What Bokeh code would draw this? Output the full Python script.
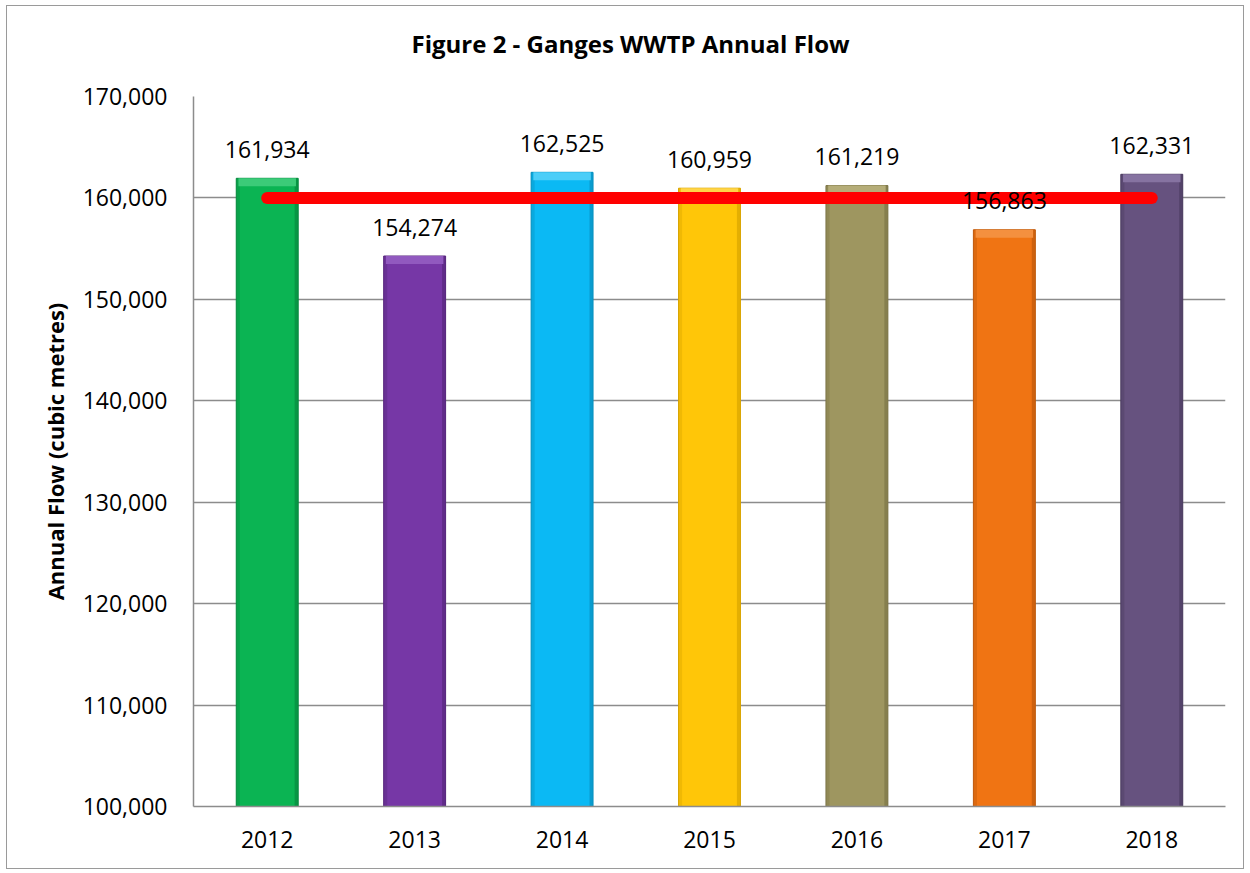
from bokeh.plotting import figure
from bokeh.models import Range1d, NumeralTickFormatter, ColumnDataSource, FixedTicker, Title
from bokeh.transform import dodge
from bokeh.core.properties import value
from bokeh.embed import file_html
from bokeh.resources import INLINE

years = ["2012", "2013", "2014", "2015", "2016", "2017", "2018"]
flows = [161934, 154274, 162525, 160959, 161219, 156863, 162331]
colors = ["#0BB453", "#7637A6", "#0BB9F4", "#FFC608", "#9E9660", "#F07413", "#66527F"]
side_colors = ["#07893F", "#57277D", "#0890BF", "#D9A500", "#7C7547", "#BF5A0D", "#4B3C5F"]
cap_colors = ["#3CCB78", "#9159BF", "#4CCEF8", "#FFD447", "#B5AD78", "#F4903F", "#8673A1"]
target = 160000
title_text = "Figure 2 - Ganges WWTP Annual Flow"
y_label = "Annual Flow (cubic metres)"

FONT = "Open Sans"
YMIN, YMAX = 100000, 170000
FRAME_H = 710
px = (YMAX - YMIN) / FRAME_H  # data units per pixel

src = ColumnDataSource(dict(
    year=years, flow=flows, color=colors, side=side_colors, cap=cap_colors,
    base=[YMIN] * len(years),
    label=[f"{v:,}" for v in flows],
    cap_bottom=[v - 8 * px for v in flows],
))

p = figure(x_range=years, y_range=Range1d(YMIN, YMAX),
           width=1238, height=864,
           min_border_left=186, min_border_right=20, min_border_top=90, min_border_bottom=64,
           output_backend="svg", toolbar_location=None,
           background_fill_color="white", border_fill_color="white",
           styles={"border": "1px solid #9a9a9a", "margin-left": "6px", "margin-top": "5px"})
p.outline_line_color = None

BAR_W = 0.42
p.vbar(x="year", top="flow", bottom="base", width=BAR_W, source=src,
       fill_color="color", line_color="side", line_width=1)
# side shading strips (bevel look)
p.vbar(x=dodge("year", -BAR_W / 2 + 0.012, range=p.x_range), top="flow", bottom="base",
       width=0.024, source=src, fill_color="side", fill_alpha=0.4, line_color=None)
p.vbar(x=dodge("year", BAR_W / 2 - 0.012, range=p.x_range), top="flow", bottom="base",
       width=0.024, source=src, fill_color="side", fill_alpha=0.7, line_color=None)
# top bevel cap
p.vbar(x="year", top="flow", bottom="cap_bottom", width=BAR_W - 0.03, source=src,
       fill_color="cap", line_color=None)

# target line
p.line(x=[years[0], years[-1]], y=[target, target], line_color="#FF0000",
       line_width=12, line_cap="round")

# data labels
p.text(x="year", y="flow", text="label", source=src, text_align="center",
       text_baseline="alphabetic", y_offset=-29, text_font=value(FONT),
       text_font_size="23px", text_color="black")

# axes
p.yaxis.ticker = FixedTicker(ticks=list(range(YMIN, YMAX + 1, 10000)))
p.yaxis.formatter = NumeralTickFormatter(format="0,0")
p.yaxis.major_label_text_font = FONT
p.yaxis.major_label_text_font_size = "23px"
p.yaxis.major_label_text_color = "black"
p.yaxis.major_tick_out = 0
p.yaxis.major_tick_in = 0
p.yaxis.minor_tick_out = 0
p.yaxis.minor_tick_in = 0
p.yaxis.major_label_standoff = 26
p.yaxis.axis_line_color = "#8c8c8c"
p.yaxis.axis_line_width = 1.5
p.yaxis.axis_label = y_label
p.yaxis.axis_label_text_font = FONT
p.yaxis.axis_label_text_font_style = "bold"
p.yaxis.axis_label_text_font_size = "22px"
p.yaxis.axis_label_text_color = "black"
p.yaxis.axis_label_standoff = 10

p.xaxis.major_label_text_font = FONT
p.xaxis.major_label_text_font_size = "23px"
p.xaxis.major_label_text_color = "black"
p.xaxis.major_tick_out = 0
p.xaxis.major_tick_in = 0
p.xaxis.major_label_standoff = 24
p.xaxis.axis_line_color = "#8c8c8c"
p.xaxis.axis_line_width = 1.5

p.xgrid.grid_line_color = None
p.ygrid.grid_line_color = "#8c8c8c"
p.ygrid.grid_line_width = 1.5

# spacer (closest to frame), then the title above it
p.add_layout(Title(text=" ", text_font_size="10px", standoff=20), "above")
p.add_layout(Title(text=title_text, align="left", offset=218, standoff=8,
                   text_font=FONT, text_font_style="bold", text_font_size="24px",
                   text_color="black"), "above")

open("out.html", "w").write(file_html(p, INLINE))
